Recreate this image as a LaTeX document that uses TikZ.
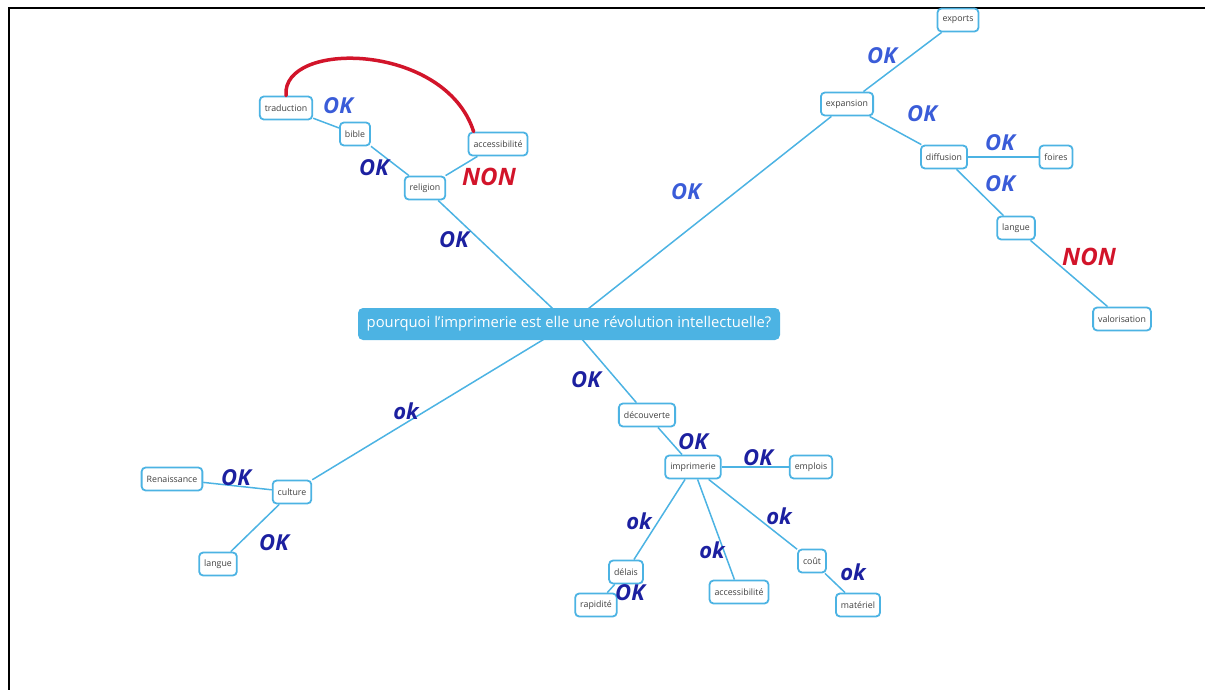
\documentclass[tikz,border=0pt]{standalone}
\usepackage{fontspec}
\setmainfont{Open Sans}
\usetikzlibrary{backgrounds}
\definecolor{mapblue}{HTML}{4CB3E3}
\definecolor{pendark}{HTML}{1C20A0}
\definecolor{penlight}{HTML}{3A5CD8}
\definecolor{penred}{HTML}{D2142A}

\begin{document}
\begin{tikzpicture}[x=1pt,y=-1pt,
  topic/.style={draw=mapblue,line width=1.8pt,rounded corners=4pt,fill=white,minimum height=23pt,inner xsep=5pt,text=black!75,font=\fontsize{8.8}{9}\selectfont},
  root/.style={fill=mapblue,rounded corners=5pt,minimum width=422pt,minimum height=32pt,text=white,font=\fontsize{14.8}{16}\selectfont},
  branch/.style={draw=mapblue,line width=1.5pt},
  ok/.style={text=pendark,font=\fontsize{22}{22}\bfseries\itshape},
  ok_light/.style={ok,text=penlight},
  non/.style={text=penred,font=\fontsize{24}{24}\bfseries\itshape},
  non_link/.style={draw=penred,line width=3.5pt,line cap=round}
  ]
	\useasboundingbox (0,0) rectangle (1205,690);
	\draw[line width=2pt] (1205,8) -- (9,8) -- (9,690);

	\node[root] (root) at (569,324) {pourquoi l'imprimerie est elle une révolution intellectuelle?};

	\node[topic] (religion) at (425,188) {religion};
	\node[topic] (bible) at (355,134) {bible};
	\node[topic] (traduction) at (286,108) {traduction};
	\node[topic] (accessibilite) at (498,144) {accessibilité};

	\node[topic] (expansion) at (847,104) {expansion};
	\node[topic] (exports) at (958,20) {exports};
	\node[topic] (diffusion) at (944,157) {diffusion};
	\node[topic] (foires) at (1056,157) {foires};
	\node[topic] (langue_diffusion) at (1016,228) {langue};
	\node[topic] (valorisation) at (1122,319) {valorisation};

	\node[topic] (decouverte) at (647,415) {découverte};
	\node[topic] (imprimerie) at (693,467) {imprimerie};
	\node[topic] (emplois) at (811,467) {emplois};
	\node[topic] (delais) at (626,572) {délais};
	\node[topic] (rapidite) at (596,605) {rapidité};
	\node[topic] (accessibilite2) at (739,592) {accessibilité};
	\node[topic] (cout) at (812,561) {coût};
	\node[topic] (materiel) at (858,605) {matériel};

	\node[topic] (renaissance) at (172,479) {Renaissance};
	\node[topic] (culture) at (292,492) {culture};
	\node[topic] (langue_culture) at (218,564) {langue};

	\begin{pgfonlayer}{background}
	\draw[branch] (root.center) -- (religion);
	\draw[branch] (religion) -- (bible);
	\draw[branch] (bible) -- (traduction);
	\draw[branch] (religion) -- (accessibilite);

	\draw[branch] (root.center) -- (expansion);
	\draw[branch] (expansion) -- (exports);
	\draw[branch] (expansion) -- (diffusion);
	\draw[branch] (diffusion) -- (foires);
	\draw[branch] (diffusion) -- (langue_diffusion);
	\draw[branch] (langue_diffusion) -- (valorisation);

	\draw[branch] (root.center) -- (decouverte);
	\draw[branch] (decouverte) -- (imprimerie);
	\draw[branch] (imprimerie) -- (emplois);
	\draw[branch] (imprimerie) -- (delais);
	\draw[branch] (delais) -- (rapidite);
	\draw[branch] (imprimerie) -- (accessibilite2);
	\draw[branch] (imprimerie) -- (cout);
	\draw[branch] (cout) -- (materiel);

	\draw[branch] (root.center) -- (culture);
	\draw[branch] (culture) -- (renaissance);
	\draw[branch] (culture) -- (langue_culture);
	\end{pgfonlayer}

	\draw[non_link] (traduction.north) .. controls (281,40) and (445,42) .. ([xshift=6pt]accessibilite.north west);

	\node[ok_light] (ok_traduction) at (338,106) {OK};
	\node[ok] (ok_bible) at (374,168) {OK};
	\node[non] (non_accessibilite) at (489,177) {NON};
	\node[ok] (ok_religion) at (454,240) {OK};

	\node[ok_light] (ok_expansion) at (686,192) {OK};
	\node[ok_light] (ok_exports) at (882,56) {OK};
	\node[ok_light] (ok_diffusion) at (922,114) {OK};
	\node[ok_light] (ok_foires) at (1000,143) {OK};
	\node[ok_light] (ok_langue) at (1000,184) {OK};
	\node[non] (non_valorisation) at (1089,257) {NON};

	\node[ok] (ok_decouverte) at (586,380) {OK};
	\node[ok] (ok_imprimerie) at (693,442) {OK};
	\node[ok] (ok_emplois) at (758,458) {OK};
	\node[ok] (ok_delais) at (639,521) {ok};
	\node[ok] (ok_accessibilite) at (712,550) {ok};
	\node[ok] (ok_cout) at (779,516) {ok};
	\node[ok] (ok_materiel) at (853,572) {ok};
	\node[ok] (ok_rapidite) at (630,593) {OK};

	\node[ok] (ok_culture) at (406,411) {ok};
	\node[ok] (ok_renaissance) at (236,478) {OK};
	\node[ok] (ok_langue_culture) at (274,543) {OK};
\end{tikzpicture}
\end{document}
